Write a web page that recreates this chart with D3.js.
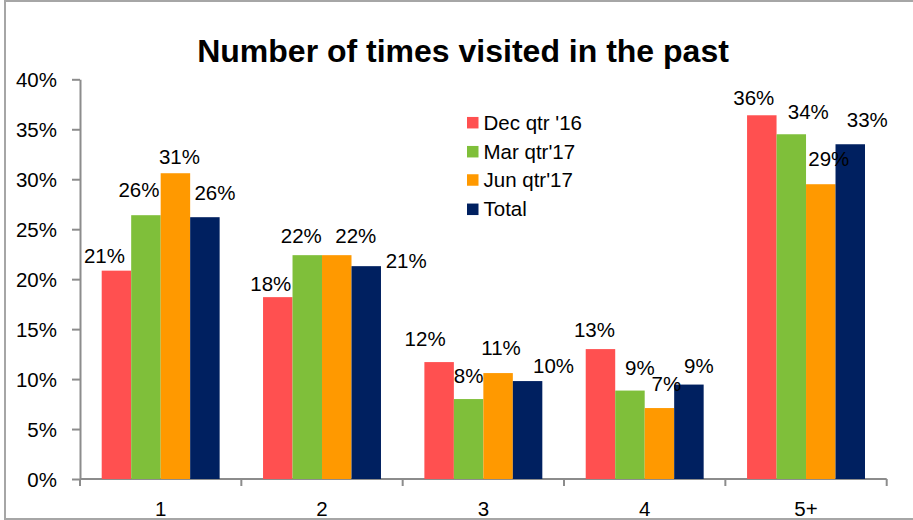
<!DOCTYPE html>
<html>
<head>
<meta charset="utf-8">
<script src="https://cdn.jsdelivr.net/npm/d3@7"></script>
<style>
  body { margin: 0; background: #fff; }
  svg { display: block; font-family: "Liberation Sans", Arial, sans-serif; }
  .axis path, .axis line { stroke: #8c8c8c; stroke-width: 2; }
  .lbl { font-size: 20.5px; fill: #000; }
</style>
</head>
<body>
<svg id="chart" width="913" height="520"></svg>
<script>
// data
const categories = ["1", "2", "3", "4", "5+"];
const seriesNames = ["Dec qtr '16", "Mar qtr'17", "Jun qtr'17", "Total"];
const decQtr16 = [20.85, 18.2, 11.7, 13.0, 36.4];
const marQtr17 = [26.4, 22.4, 8.0, 8.85, 34.5];
const junQtr17 = [30.6, 22.4, 10.6, 7.1, 29.5];
const totalVals = [26.2, 21.3, 9.8, 9.45, 33.5];
const labelText = [
  ["21%", "18%", "12%", "13%", "36%"],
  ["26%", "22%", "8%", "9%", "34%"],
  ["31%", "22%", "11%", "7%", "29%"],
  ["26%", "21%", "10%", "9%", "33%"]
];
const yTicks = [0, 5, 10, 15, 20, 25, 30, 35, 40];

// layout / style
const colors = ["#FF5050", "#7FBF3A", "#FF9900", "#002060"];
// hand-placed label nudges: [dx from bar centre, baseline height above bar top]
const labelNudge = [
  [[-12, 8], [-7, 6], [-14, 16], [-6, 12], [-8, 10]],
  [[-7, 18], [-6, 12], [0, 16], [10, 16], [17, 15]],
  [[4, 9], [19, 12], [3, 18], [7, 17], [8, 18]],
  [[10, 17], [40, -1.5], [26, 8], [10, 12], [17, 17]]
];

const seriesVals = [decQtr16, marQtr17, junQtr17, totalVals];

const svg = d3.select("#chart");
const plotLeft = 80, plotRight = 886.7, plotTop = 79.3, plotBottom = 479;

// outer frame
svg.append("rect")
  .attr("x", 5).attr("y", 1)
  .attr("width", 920).attr("height", 518)
  .attr("fill", "none")
  .attr("stroke", "#a6a6a6")
  .attr("stroke-width", 2);

svg.append("text")
  .attr("x", 463).attr("y", 62)
  .attr("text-anchor", "middle")
  .style("font-size", "32px")
  .style("font-weight", "bold")
  .text("Number of times visited in the past");

const x0 = d3.scaleBand().domain(categories).range([plotLeft, plotRight]);
const pad = x0.bandwidth() * 0.1345;
const x1 = d3.scaleBand().domain(seriesNames).range([pad, x0.bandwidth() - pad]);
const y = d3.scaleLinear().domain([0, 40]).range([plotBottom, plotTop]);

// y axis
const yAxis = svg.append("g")
  .attr("class", "axis")
  .attr("transform", `translate(${plotLeft},0)`)
  .call(d3.axisLeft(y).tickValues(yTicks).tickSize(8).tickSizeOuter(0).tickFormat(d => d + "%"));
yAxis.selectAll("text")
  .attr("class", "lbl")
  .attr("x", -23)
  .attr("dy", "0.36em")
  .style("font-size", "20.5px")
  .style("font-family", "Liberation Sans, Arial, sans-serif");

// x axis: ticks at band edges
const edges = categories.map(c => x0(c)).concat([plotRight]);
const xg = svg.append("g").attr("class", "axis");
xg.append("line")
  .attr("x1", plotLeft).attr("x2", plotRight)
  .attr("y1", plotBottom).attr("y2", plotBottom);
xg.selectAll(".tk").data(edges).enter().append("line")
  .attr("x1", d => d).attr("x2", d => d)
  .attr("y1", plotBottom).attr("y2", plotBottom + 7);
xg.selectAll(".xl").data(categories).enter().append("text")
  .attr("class", "lbl")
  .attr("x", d => x0(d) + x0.bandwidth() / 2)
  .attr("y", 516)
  .attr("text-anchor", "middle")
  .text(d => d);

// bars
const groups = svg.selectAll(".grp")
  .data(categories)
  .enter().append("g")
  .attr("transform", d => `translate(${x0(d)},0)`);

groups.selectAll("rect")
  .data((c, ci) => seriesNames.map((s, si) => ({ s, si, ci, v: seriesVals[si][ci] })))
  .enter().append("rect")
  .attr("x", d => x1(d.s))
  .attr("y", d => y(d.v))
  .attr("width", x1.bandwidth())
  .attr("height", d => plotBottom - y(d.v))
  .attr("fill", d => colors[d.si]);

groups.selectAll(".val")
  .data((c, ci) => seriesNames.map((s, si) => ({ s, si, ci, v: seriesVals[si][ci] })))
  .enter().append("text")
  .attr("class", "lbl")
  .attr("text-anchor", "middle")
  .attr("x", d => x1(d.s) + x1.bandwidth() / 2 + labelNudge[d.si][d.ci][0])
  .attr("y", d => y(d.v) - labelNudge[d.si][d.ci][1])
  .text(d => labelText[d.si][d.ci]);

// legend
const legend = svg.append("g").attr("transform", "translate(467,0)");
const legY = [122.7, 151.7, 180, 209.3];
seriesNames.forEach((name, i) => {
  legend.append("rect")
    .attr("x", 0).attr("y", legY[i] - 5.75)
    .attr("width", 11.5).attr("height", 11.5)
    .attr("fill", colors[i]);
  legend.append("text")
    .attr("class", "lbl")
    .attr("x", 16.5).attr("y", legY[i] + 7)
    .text(name);
});
</script>
</body>
</html>
